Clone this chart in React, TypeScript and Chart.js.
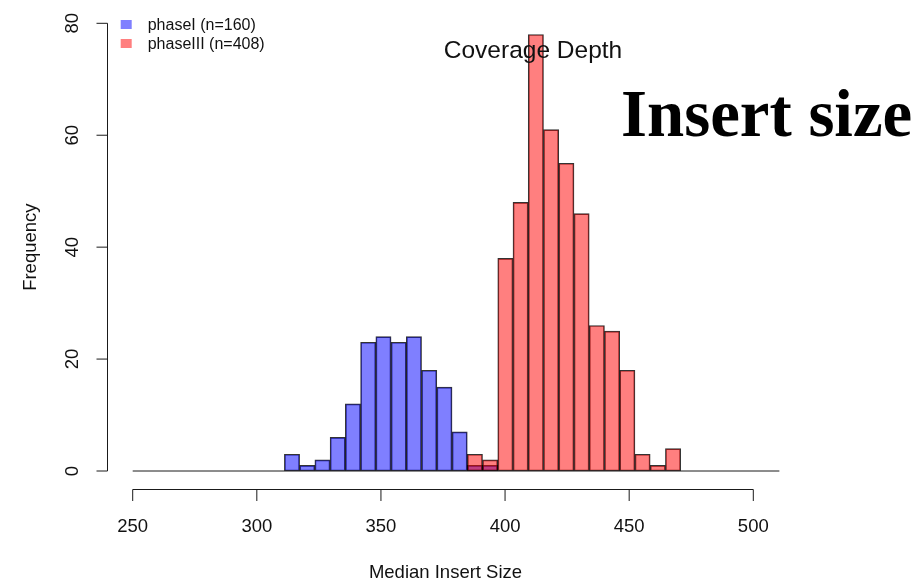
import React, { useEffect, useRef } from "react";
import { Chart, registerables } from "chart.js";

Chart.register(...registerables);

// Histogram bins (median insert size), equal width
const binStart = 311.1;
const binWidth = 6.14;
const baselineEnd = 510.5;

// Counts per bin for each sequencing phase
const phaseIFirstBin = 0;
const phaseICounts = [3, 1, 2, 6, 12, 23, 24, 23, 24, 18, 15, 7, 1, 1];
const phaseIIIFirstBin = 12;
const phaseIIICounts = [3, 2, 38, 48, 78, 61, 55, 46, 26, 25, 18, 3, 1, 4];

// Axis ranges and tick spacing
const xMin = 250;
const xMax = 500;
const xStep = 50;
const yMin = 0;
const yMax = 80;
const yStep = 20;

const legendLabels = ["phaseI (n=160)", "phaseIII (n=408)"];
const legendColors = ["rgba(0,0,255,0.5)", "rgba(255,0,0,0.5)"];

const toPoints = (first: number, counts: number[]) =>
  counts.map((c, i) => ({ x: binStart + (first + i + 0.5) * binWidth, y: c }));

const SANS = '"Liberation Sans", Arial, Helvetica, sans-serif';

const baseAxesPlugin = {
  id: "baseAxes",
  afterDraw(chart: any) {
    const { ctx, chartArea } = chart;
    const xs = chart.scales.x;
    const ys = chart.scales.y;
    ctx.save();
    ctx.strokeStyle = "#1a1a1a";
    ctx.fillStyle = "#111";
    ctx.lineWidth = 1;

    const line = (x1: number, y1: number, x2: number, y2: number) => {
      ctx.beginPath();
      ctx.moveTo(x1, y1);
      ctx.lineTo(x2, y2);
      ctx.stroke();
    };

    // zero line under the bars
    const y0 = ys.getPixelForValue(0);
    line(xs.getPixelForValue(xMin), y0, xs.getPixelForValue(baselineEnd), y0);

    // y axis, set off to the left
    const ax = chartArea.left - 25.2;
    const yTicks: number[] = [];
    for (let v = yMin; v <= yMax; v += yStep) yTicks.push(v);
    line(ax, ys.getPixelForValue(yMax), ax, ys.getPixelForValue(yMin));
    ctx.font = `18.5px ${SANS}`;
    ctx.textAlign = "center";
    ctx.textBaseline = "alphabetic";
    for (const v of yTicks) {
      const py = ys.getPixelForValue(v);
      line(ax - 11, py, ax, py);
      ctx.save();
      ctx.translate(78.3, py);
      ctx.rotate(-Math.PI / 2);
      ctx.fillText(String(v), 0, 0);
      ctx.restore();
    }
    ctx.save();
    ctx.translate(36, (ys.getPixelForValue(yMin) + ys.getPixelForValue(yMax)) / 2);
    ctx.rotate(-Math.PI / 2);
    ctx.fillText("Frequency", 0, 0);
    ctx.restore();

    // x axis, set off below
    const ay = 489.5;
    const xTicks: number[] = [];
    for (let v = xMin; v <= xMax; v += xStep) xTicks.push(v);
    line(xs.getPixelForValue(xMin), ay, xs.getPixelForValue(xMax), ay);
    for (const v of xTicks) {
      const px = xs.getPixelForValue(v);
      line(px, ay, px, ay + 11.5);
      ctx.fillText(String(v), px, 531.7);
    }
    ctx.fillText("Median Insert Size", (xs.getPixelForValue(xMin) + xs.getPixelForValue(xMax)) / 2 + 2.5, 578.3);

    // title
    ctx.font = `24.5px ${SANS}`;
    ctx.fillText("Coverage Depth", 533, 58.3);

    // legend
    ctx.font = `16px ${SANS}`;
    ctx.textAlign = "left";
    legendLabels.forEach((label, i) => {
      const top = 20 + i * 19;
      ctx.fillStyle = legendColors[i];
      ctx.fillRect(120.7, top, 11, 9);
      ctx.fillStyle = "#111";
      ctx.fillText(label, 147.7, top + 9.5);
    });

    // headline
    ctx.font = `bold 66.8px "Liberation Serif", "Times New Roman", serif`;
    ctx.fillStyle = "#000";
    ctx.fillText("Insert size", 621, 136);

    ctx.restore();
  },
};

export default function App() {
  const canvasRef = useRef<HTMLCanvasElement | null>(null);

  useEffect(() => {
    const canvas = canvasRef.current;
    if (!canvas) return;
    const barStyle = {
      borderColor: "rgba(0,0,0,0.8)",
      borderWidth: 1,
      borderSkipped: false,
      grouped: false,
      barPercentage: 1,
      categoryPercentage: 1,
    };
    const chart = new Chart(canvas, {
      type: "bar",
      data: {
        datasets: [
          {
            label: legendLabels[1],
            data: toPoints(phaseIIIFirstBin, phaseIIICounts),
            backgroundColor: legendColors[1],
            order: 0,
            ...barStyle,
          },
          {
            label: legendLabels[0],
            data: toPoints(phaseIFirstBin, phaseICounts),
            backgroundColor: legendColors[0],
            order: 1,
            ...barStyle,
          },
        ],
      },
      options: {
        responsive: false,
        animation: false,
        devicePixelRatio: 1,
        layout: { padding: { left: 132.7, right: 162.7, top: 23.3, bottom: 111 } },
        scales: {
          x: { type: "linear", min: xMin, max: xMax, offset: false, display: false },
          y: { type: "linear", min: yMin, max: yMax, display: false },
        },
        plugins: {
          legend: { display: false },
          tooltip: { enabled: false },
        },
      },
      plugins: [baseAxesPlugin],
    });
    return () => chart.destroy();
  }, []);

  return (
    <div style={{ position: "fixed", left: 0, top: 0, width: 916, height: 582, background: "#fff" }}>
      <canvas ref={canvasRef} width={916} height={582} style={{ display: "block" }} />
    </div>
  );
}
